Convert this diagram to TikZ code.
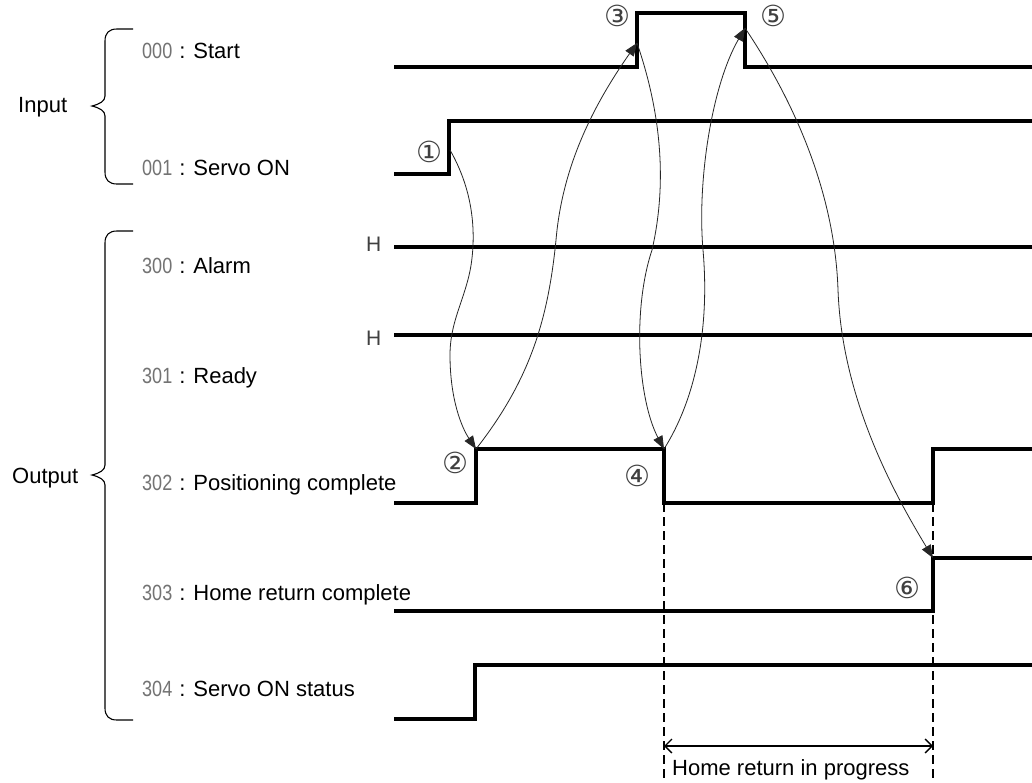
\documentclass[tikz,border=0pt]{standalone}
\usepackage{fontspec}
\setmainfont{Liberation Sans}
\newfontfamily\numfont[FakeStretch=0.82]{Liberation Sans}
\newfontfamily\circfont{DejaVu Sans}
\usetikzlibrary{arrows.meta}
\tikzset{
  sig/.style={line width=3.3pt, line join=miter, line cap=butt},
  lbl/.style={anchor=base west, inner sep=0pt, font=\fontsize{22}{26}\selectfont},
  hlbl/.style={anchor=base west, inner sep=0pt, text=black!75, font=\fontsize{21}{24}\selectfont},
  cnum/.style={inner sep=0pt, text=black!75, font=\circfont\fontsize{29}{34}\selectfont},
  curve/.style={line width=0.8pt, draw=black!85, -{Triangle[length=13pt,width=10pt]}},
  bracestyle/.style={line width=1.1pt},
  dashln/.style={line width=1.4pt, dash pattern=on 9pt off 5pt},
  dimline/.style={line width=1.3pt, {Straight Barb[length=7pt,width=14pt]}-{Straight Barb[length=7pt,width=14pt]}}
}
\newcommand{\pre}[1]{\textcolor{black!55}{\numfont #1}\hspace{7pt}:\hspace{8pt}}
\begin{document}
\begin{tikzpicture}[x=1pt,y=-1pt]
\useasboundingbox (0,0) rectangle (1032,782);
\fill[white] (0,0) rectangle (1032,782);

% group labels and braces
\node[lbl] (inp) at (18,112) {Input};
\node[lbl] (outp) at (12,483) {Output};
\draw[bracestyle] (133,29) -- (117,29) .. controls (109,29) and (105,33) .. (105,41) -- (105,96)
  .. controls (105,101) and (100,104) .. (92,106) .. controls (100,108) and (105,111) .. (105,116)
  -- (105,172) .. controls (105,180) and (109,184) .. (117,184) -- (133,184);
\draw[bracestyle] (133,231) -- (117,231) .. controls (109,231) and (105,235) .. (105,243) -- (105,465)
  .. controls (105,470) and (100,473) .. (92,475) .. controls (100,477) and (105,480) .. (105,485)
  -- (105,708) .. controls (105,716) and (109,720) .. (117,720) -- (133,720);

% signal labels
\node[lbl] (l000) at (142,58) {\pre{000}Start};
\node[lbl] (l001) at (142,175) {\pre{001}Servo ON};
\node[lbl] (l300) at (142,273) {\pre{300}Alarm};
\node[lbl] (l301) at (142,383) {\pre{301}Ready};
\node[lbl] (l302) at (142,490) {\pre{302}Positioning complete};
\node[lbl] (l303) at (142,600) {\pre{303}Home return complete};
\node[lbl] (l304) at (142,696) {\pre{304}Servo ON status};
\node[hlbl] (h1) at (366,251) {H};
\node[hlbl] (h2) at (366,345) {H};

% signals
\draw[sig] (394,67) -- (637,67) -- (637,13) -- (745,13) -- (745,67) -- (1032,67);
\draw[sig] (394,174) -- (449,174) -- (449,121) -- (1032,121);
\draw[sig] (394,247) -- (1032,247);
\draw[sig] (394,335) -- (1032,335);
\draw[sig] (394,503) -- (476,503) -- (476,449) -- (664,449) -- (664,503) -- (933,503) -- (933,449) -- (1032,449);
\draw[sig] (394,611) -- (933,611) -- (933,558) -- (1032,558);
\draw[sig] (394,719) -- (475,719) -- (475,665) -- (1032,665);

% event points
\coordinate (p1) at (450,150);
\coordinate (p2) at (476,449);
\coordinate (p3) at (637,43);
\coordinate (p4) at (664,449);
\coordinate (p5) at (745,28);
\coordinate (p6) at (933,558);

% circled numbers
\node[cnum] (n1) at (429,152) {①};
\node[cnum] (n2) at (455,463) {②};
\node[cnum] (n3) at (617,16) {③};
\node[cnum] (n4) at (637,476) {④};
\node[cnum] (n5) at (773,16) {⑤};
\node[cnum] (n6) at (907,588) {⑥};

% causal curves
\draw[curve] (p1) .. controls (470,185) and (476,222) .. (472,258)
  .. controls (468,295) and (450,318) .. (450,355)
  .. controls (450,400) and (462,428) .. (p2);
\draw[curve] (p2) .. controls (530,380) and (548,320) .. (556,240)
  .. controls (562,170) and (590,110) .. (p3);
\draw[curve] (p3) .. controls (660,110) and (668,180) .. (652,250)
  .. controls (632,310) and (638,400) .. (p4);
\draw[curve] (p4) .. controls (695,400) and (710,330) .. (703,250)
  .. controls (697,180) and (712,85) .. (p5);
\draw[curve] (p5) .. controls (800,110) and (835,200) .. (838,290)
  .. controls (842,400) and (895,495) .. (p6);

% home return interval
\coordinate (d1t) at (664,503);
\coordinate (d1b) at (664,778);
\coordinate (d2t) at (933,503);
\coordinate (d2b) at (933,778);
\draw[dashln] (d1t) -- (d1b);
\draw[dashln] (d2t) -- (d2b);
\coordinate (a1) at (664,746);
\coordinate (a2) at (933,746);
\draw[dimline] (a1) -- (a2);
\node[lbl] (hrp) at (672,775) {Home return in progress};
\end{tikzpicture}
\end{document}
